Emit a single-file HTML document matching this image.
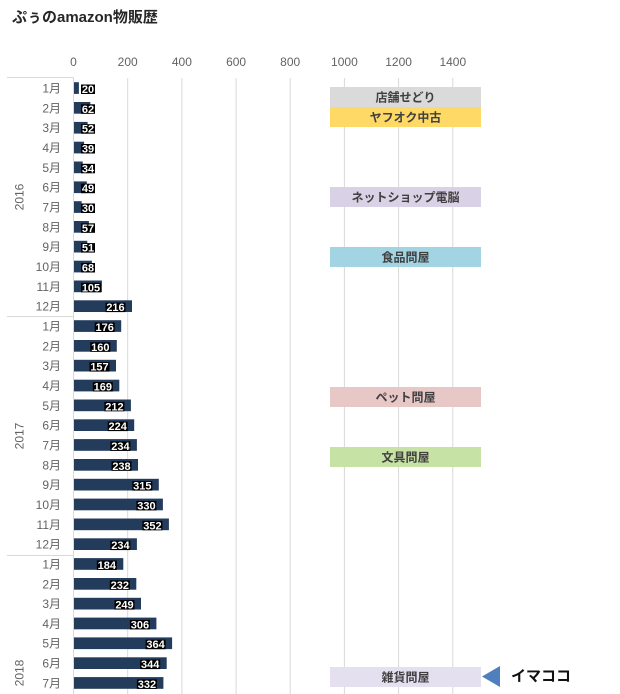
<!DOCTYPE html>
<html>
<head>
<meta charset="utf-8">
<style>
html,body{margin:0;padding:0;background:#fff;}
body{width:620px;height:694px;overflow:hidden;}
svg{display:block;font-family:"Liberation Sans","Noto Sans CJK JP",sans-serif;}
.tk{font-size:12px;fill:#636363;text-anchor:middle;}
.mo{font-size:12px;fill:#636363;text-anchor:end;}
.yr{font-size:12px;fill:#636363;text-anchor:middle;}
.lb{font-size:11px;font-weight:bold;fill:#fff;text-anchor:middle;}
.bx{font-size:12px;font-weight:bold;fill:#404040;text-anchor:middle;}
</style>
</head>
<body>
<svg width="620" height="694" viewBox="0 0 620 694" xmlns="http://www.w3.org/2000/svg">
<text x="12" y="22" style="font-size:15px;font-weight:bold;fill:#262626;">ぷぅのamazon物販歴</text>

<!-- axis labels -->
<text class="tk" x="73.5" y="66">0</text>
<text class="tk" x="127.7" y="66">200</text>
<text class="tk" x="181.9" y="66">400</text>
<text class="tk" x="236.1" y="66">600</text>
<text class="tk" x="290.2" y="66">800</text>
<text class="tk" x="344.4" y="66">1000</text>
<text class="tk" x="398.6" y="66">1200</text>
<text class="tk" x="452.8" y="66">1400</text>

<!-- gridlines -->
<g stroke="#d9d9d9" stroke-width="1">
<line x1="127.7" y1="78" x2="127.7" y2="694"/>
<line x1="181.9" y1="78" x2="181.9" y2="694"/>
<line x1="236.1" y1="78" x2="236.1" y2="694"/>
<line x1="290.2" y1="78" x2="290.2" y2="694"/>
<line x1="344.4" y1="78" x2="344.4" y2="694"/>
<line x1="398.6" y1="78" x2="398.6" y2="694"/>
<line x1="452.8" y1="78" x2="452.8" y2="694"/>
<line x1="73.5" y1="77.5" x2="73.5" y2="694"/>
<line x1="7" y1="77.5" x2="73.5" y2="77.5"/>
<line x1="7" y1="316.5" x2="73.5" y2="316.5"/>
<line x1="7" y1="555.5" x2="73.5" y2="555.5"/>
</g>

<!-- year labels -->
<text class="yr" transform="translate(23.5,197) rotate(-90)">2016</text>
<text class="yr" transform="translate(23.5,436) rotate(-90)">2017</text>
<text class="yr" transform="translate(23.5,673) rotate(-90)">2018</text>

<!-- month labels -->
<text class="mo" x="61" y="92.5">1月</text>
<text class="mo" x="61" y="112.3">2月</text>
<text class="mo" x="61" y="132.2">3月</text>
<text class="mo" x="61" y="152">4月</text>
<text class="mo" x="61" y="171.8">5月</text>
<text class="mo" x="61" y="191.7">6月</text>
<text class="mo" x="61" y="211.5">7月</text>
<text class="mo" x="61" y="231.3">8月</text>
<text class="mo" x="61" y="251.1">9月</text>
<text class="mo" x="61" y="271">10月</text>
<text class="mo" x="61" y="290.8">11月</text>
<text class="mo" x="61" y="310.6">12月</text>
<text class="mo" x="61" y="330.5">1月</text>
<text class="mo" x="61" y="350.3">2月</text>
<text class="mo" x="61" y="370.1">3月</text>
<text class="mo" x="61" y="390">4月</text>
<text class="mo" x="61" y="409.8">5月</text>
<text class="mo" x="61" y="429.6">6月</text>
<text class="mo" x="61" y="449.4">7月</text>
<text class="mo" x="61" y="469.3">8月</text>
<text class="mo" x="61" y="489.1">9月</text>
<text class="mo" x="61" y="508.9">10月</text>
<text class="mo" x="61" y="528.8">11月</text>
<text class="mo" x="61" y="548.6">12月</text>
<text class="mo" x="61" y="568.4">1月</text>
<text class="mo" x="61" y="588.3">2月</text>
<text class="mo" x="61" y="608.1">3月</text>
<text class="mo" x="61" y="627.9">4月</text>
<text class="mo" x="61" y="647.7">5月</text>
<text class="mo" x="61" y="667.6">6月</text>
<text class="mo" x="61" y="687.4">7月</text>

<!-- bars -->
<g fill="#243c5c">
<rect x="74" y="82.2" width="4.9" height="11.7"/>
<rect x="74" y="102" width="16.3" height="11.7"/>
<rect x="74" y="121.9" width="13.6" height="11.7"/>
<rect x="74" y="141.7" width="10.1" height="11.7"/>
<rect x="74" y="161.5" width="8.7" height="11.7"/>
<rect x="74" y="181.4" width="12.8" height="11.7"/>
<rect x="74" y="201.2" width="7.6" height="11.7"/>
<rect x="74" y="221" width="14.9" height="11.7"/>
<rect x="74" y="240.8" width="13.3" height="11.7"/>
<rect x="74" y="260.7" width="17.9" height="11.7"/>
<rect x="74" y="280.5" width="27.9" height="11.7"/>
<rect x="74" y="300.3" width="58" height="11.7"/>
<rect x="74" y="320.2" width="47.2" height="11.7"/>
<rect x="74" y="340" width="42.8" height="11.7"/>
<rect x="74" y="359.8" width="42" height="11.7"/>
<rect x="74" y="379.7" width="45.3" height="11.7"/>
<rect x="74" y="399.5" width="56.9" height="11.7"/>
<rect x="74" y="419.3" width="60.2" height="11.7"/>
<rect x="74" y="439.1" width="62.9" height="11.7"/>
<rect x="74" y="459" width="64" height="11.7"/>
<rect x="74" y="478.8" width="84.8" height="11.7"/>
<rect x="74" y="498.6" width="88.9" height="11.7"/>
<rect x="74" y="518.5" width="94.9" height="11.7"/>
<rect x="74" y="538.3" width="62.9" height="11.7"/>
<rect x="74" y="558.1" width="49.3" height="11.7"/>
<rect x="74" y="578" width="62.3" height="11.7"/>
<rect x="74" y="597.8" width="67" height="11.7"/>
<rect x="74" y="617.6" width="82.4" height="11.7"/>
<rect x="74" y="637.4" width="98.1" height="11.7"/>
<rect x="74" y="657.3" width="92.7" height="11.7"/>
<rect x="74" y="677.1" width="89.4" height="11.7"/>
</g>

<!-- label backgrounds -->
<g fill="#000">
<rect x="81" y="84.5" width="14" height="9.5"/>
<rect x="81" y="104.3" width="14" height="9.5"/>
<rect x="81" y="124.2" width="14" height="9.5"/>
<rect x="81" y="144" width="14" height="9.5"/>
<rect x="81" y="163.8" width="14" height="9.5"/>
<rect x="81" y="183.7" width="14" height="9.5"/>
<rect x="81" y="203.5" width="14" height="9.5"/>
<rect x="81" y="223.3" width="14" height="9.5"/>
<rect x="81" y="243.1" width="14" height="9.5"/>
<rect x="81" y="263" width="14" height="9.5"/>
<rect x="81" y="282.8" width="20" height="9.5"/>
<rect x="105.5" y="302.6" width="20" height="9.5"/>
<rect x="94.7" y="322.5" width="20" height="9.5"/>
<rect x="90.3" y="342.3" width="20" height="9.5"/>
<rect x="89.5" y="362.1" width="20" height="9.5"/>
<rect x="92.8" y="382" width="20" height="9.5"/>
<rect x="104.4" y="401.8" width="20" height="9.5"/>
<rect x="107.7" y="421.6" width="20" height="9.5"/>
<rect x="110.4" y="441.4" width="20" height="9.5"/>
<rect x="111.5" y="461.3" width="20" height="9.5"/>
<rect x="132.3" y="481.1" width="20" height="9.5"/>
<rect x="136.4" y="500.9" width="20" height="9.5"/>
<rect x="142.4" y="520.8" width="20" height="9.5"/>
<rect x="110.4" y="540.6" width="20" height="9.5"/>
<rect x="96.8" y="560.4" width="20" height="9.5"/>
<rect x="109.8" y="580.3" width="20" height="9.5"/>
<rect x="114.5" y="600.1" width="20" height="9.5"/>
<rect x="129.9" y="619.9" width="20" height="9.5"/>
<rect x="145.6" y="639.7" width="20" height="9.5"/>
<rect x="140.2" y="659.6" width="20" height="9.5"/>
<rect x="136.9" y="679.4" width="20" height="9.5"/>
</g>

<!-- labels -->
<text class="lb" x="88" y="93">20</text>
<text class="lb" x="88" y="112.8">62</text>
<text class="lb" x="88" y="132.7">52</text>
<text class="lb" x="88" y="152.5">39</text>
<text class="lb" x="88" y="172.3">34</text>
<text class="lb" x="88" y="192.2">49</text>
<text class="lb" x="88" y="212">30</text>
<text class="lb" x="88" y="231.8">57</text>
<text class="lb" x="88" y="251.6">51</text>
<text class="lb" x="88" y="271.5">68</text>
<text class="lb" x="91" y="291.3">105</text>
<text class="lb" x="115.5" y="311.1">216</text>
<text class="lb" x="104.7" y="331">176</text>
<text class="lb" x="100.3" y="350.8">160</text>
<text class="lb" x="99.5" y="370.6">157</text>
<text class="lb" x="102.8" y="390.5">169</text>
<text class="lb" x="114.4" y="410.3">212</text>
<text class="lb" x="117.7" y="430.1">224</text>
<text class="lb" x="120.4" y="449.9">234</text>
<text class="lb" x="121.5" y="469.8">238</text>
<text class="lb" x="142.3" y="489.6">315</text>
<text class="lb" x="146.4" y="509.4">330</text>
<text class="lb" x="152.4" y="529.3">352</text>
<text class="lb" x="120.4" y="549.1">234</text>
<text class="lb" x="106.8" y="568.9">184</text>
<text class="lb" x="119.8" y="588.8">232</text>
<text class="lb" x="124.5" y="608.6">249</text>
<text class="lb" x="139.9" y="628.4">306</text>
<text class="lb" x="155.6" y="648.2">364</text>
<text class="lb" x="150.2" y="668.1">344</text>
<text class="lb" x="146.9" y="687.9">332</text>

<!-- right category boxes -->
<rect x="330" y="87" width="151" height="20" fill="#dadada"/>
<text class="bx" x="405.5" y="101.5">店舗せどり</text>
<rect x="330" y="107" width="151" height="20" fill="#ffd966"/>
<text class="bx" x="405.5" y="121.5">ヤフオク中古</text>
<rect x="330" y="187" width="151" height="20" fill="#d9d2e6"/>
<text class="bx" x="405.5" y="201.5">ネットショップ電脳</text>
<rect x="330" y="247" width="151" height="20" fill="#a2d4e3"/>
<text class="bx" x="405.5" y="261.5">食品問屋</text>
<rect x="330" y="387" width="151" height="20" fill="#e8c7c7"/>
<text class="bx" x="405.5" y="401.5">ペット問屋</text>
<rect x="330" y="447" width="151" height="20" fill="#c6e2a5"/>
<text class="bx" x="405.5" y="461.5">文具問屋</text>
<rect x="330" y="667" width="151" height="20" fill="#e4e0ef"/>
<text class="bx" x="405.5" y="681.5">雑貨問屋</text>

<!-- arrow and note -->
<polygon points="482,676.5 500,666 500,687" fill="#4f7fbd"/>
<text x="511" y="681" style="font-size:15px;font-weight:bold;fill:#111;">イマココ</text>
</svg>
</body>
</html>
